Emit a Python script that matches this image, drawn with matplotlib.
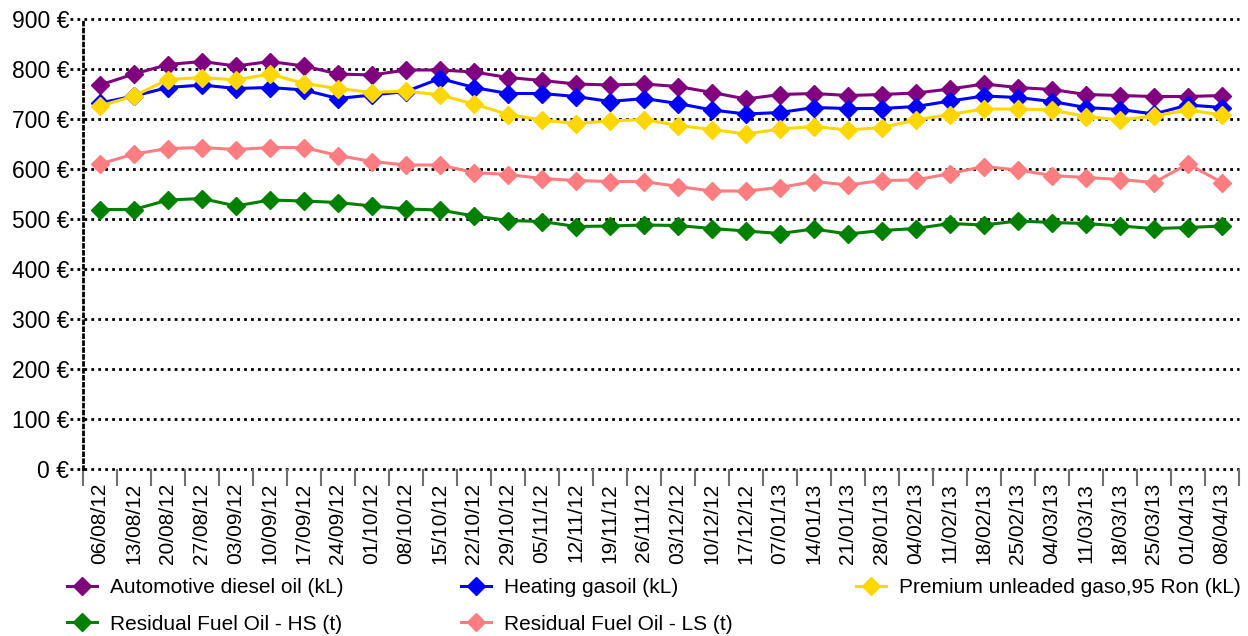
import numpy as np
import matplotlib
matplotlib.use("Agg")
import matplotlib.pyplot as plt

plt.rcParams['font.family'] = ['Liberation Sans', 'DejaVu Sans']

dates = ["06/08/12", "13/08/12", "20/08/12", "27/08/12", "03/09/12", "10/09/12",
         "17/09/12", "24/09/12", "01/10/12", "08/10/12", "15/10/12", "22/10/12",
         "29/10/12", "05/11/12", "12/11/12", "19/11/12", "26/11/12", "03/12/12",
         "10/12/12", "17/12/12", "07/01/13", "14/01/13", "21/01/13", "28/01/13",
         "04/02/13", "11/02/13", "18/02/13", "25/02/13", "04/03/13", "11/03/13",
         "18/03/13", "25/03/13", "01/04/13", "08/04/13"]

diesel = [768, 790, 809, 815, 806, 815, 806, 790, 788, 798, 798, 794, 783, 777, 770, 768, 770,
          765, 753, 740, 749, 751, 747, 749, 752, 760, 770, 763, 759, 749, 747, 745, 745, 747]
heating = [732, 746, 763, 768, 761, 763, 758, 741, 748, 755, 781, 763, 751, 751, 745, 735, 741,
           731, 718, 710, 713, 723, 721, 721, 725, 736, 746, 743, 735, 723, 719, 710, 728, 723]
premium = [726, 746, 779, 783, 778, 790, 771, 761, 753, 756, 748, 730, 709, 698, 691, 696, 699,
           687, 679, 670, 680, 685, 678, 683, 698, 709, 720, 720, 718, 705, 698, 706, 718, 708]
fuel_hs = [519, 519, 538, 541, 526, 538, 536, 533, 526, 520, 518, 506, 497, 495, 485, 486, 488,
           487, 481, 476, 471, 480, 470, 477, 481, 491, 488, 496, 493, 491, 486, 481, 483, 486]
fuel_ls = [610, 630, 641, 643, 639, 643, 643, 627, 615, 608, 608, 593, 589, 581, 577, 575, 575,
           565, 556, 556, 563, 575, 568, 577, 578, 591, 605, 598, 587, 583, 579, 573, 610, 573]

yticks = [0, 100, 200, 300, 400, 500, 600, 700, 800, 900]

series = [
    ("Automotive diesel oil (kL)", diesel, "#800080"),
    ("Heating gasoil (kL)", heating, "#0000FF"),
    ("Premium unleaded gaso,95 Ron (kL)", premium, "#FFD700"),
    ("Residual Fuel Oil - HS (t)", fuel_hs, "#008000"),
    ("Residual Fuel Oil - LS (t)", fuel_ls, "#FF7C80"),
]

fig = plt.figure(figsize=(12.48, 6.36), dpi=100)
ax = fig.add_axes([83/1248, 1 - 469/636, (1239 - 83)/1248, (469 - 19)/636])

x = np.arange(len(dates))
handles = {}
for name, vals, col in series:
    h, = ax.plot(x, vals, color=col, lw=2.2, marker='D', ms=9, mec=col, mfc=col,
                 label=name, zorder=3)
    handles[name] = h

ax.set_xlim(-0.5, len(dates) - 0.5)
ax.set_ylim(0, 900)

# dotted gridlines, slightly extended past the left axis
ytr = ax.get_yaxis_transform()
for v in yticks:
    ax.plot([-0.011, 1], [v, v], transform=ytr, color='black', lw=2,
            ls=(0, (1, 1.5)), clip_on=False, zorder=1)

for s in ['top', 'right', 'bottom']:
    ax.spines[s].set_visible(False)
ax.spines['left'].set_linestyle((0, (1, 1.5)))
ax.spines['left'].set_linewidth(2)

ax.set_yticks(yticks)
ax.set_yticklabels([f"{v} €" for v in yticks], fontsize=16.5)
ax.tick_params(axis='y', length=0, pad=10)

ax.set_xticks(x)
ax.set_xticklabels(dates, rotation=90, fontsize=15, va='top')
ax.set_xticks(np.arange(len(dates) + 1) - 0.5, minor=True)
ax.tick_params(axis='x', which='major', length=0, pad=10)
ax.tick_params(axis='x', which='minor', length=12, width=1.5, color='#707070')

# legend: three equal-width columns, like the original
columns = [["Automotive diesel oil (kL)", "Residual Fuel Oil - HS (t)"],
           ["Heating gasoil (kL)", "Residual Fuel Oil - LS (t)"],
           ["Premium unleaded gaso,95 Ron (kL)"]]
col_left = [67, 461, 856]
for names, xl in zip(columns, col_left):
    fig.legend([handles[n] for n in names], names, loc='upper left',
               bbox_to_anchor=(xl/1248, 1 - 578/636), frameon=False, fontsize=15,
               handlelength=1.45, handletextpad=0.6,
               labelspacing=0.85, borderaxespad=0, borderpad=0)

fig.savefig("out.png", dpi=100)
